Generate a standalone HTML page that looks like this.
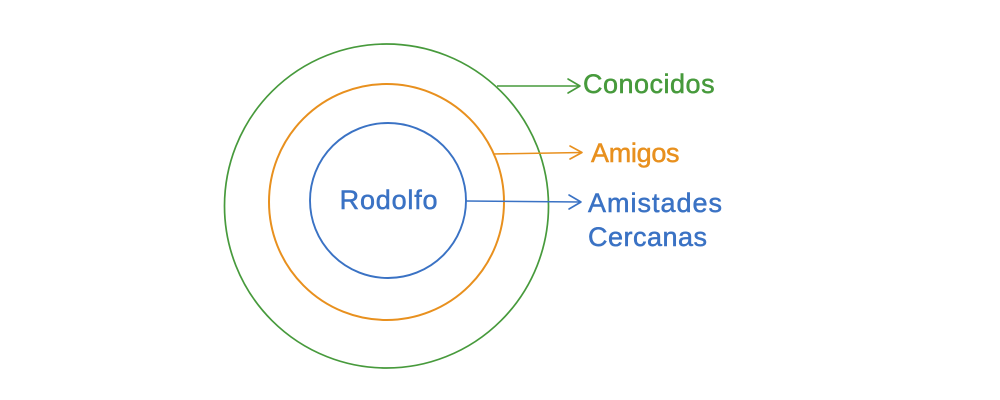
<!DOCTYPE html>
<html>
<head>
<meta charset="utf-8">
<style>
  html, body { margin: 0; padding: 0; background: #ffffff; }
  body { width: 1000px; height: 400px; overflow: hidden; }
  svg { display: block; }
  text { font-family: "Liberation Sans", "DejaVu Sans", sans-serif; font-size: 27px; stroke-width: 0.5; }
</style>
</head>
<body>
<svg width="1000" height="400" viewBox="0 0 1000 400" xmlns="http://www.w3.org/2000/svg">
  <rect width="1000" height="400" fill="#ffffff"/>

  <!-- Green outer circle -->
  <ellipse cx="386.5" cy="206" rx="162" ry="162" fill="none" stroke="#479a3c" stroke-width="1.7"/>

  <!-- Orange middle circle -->
  <ellipse cx="386.5" cy="202" rx="117.5" ry="118" fill="none" stroke="#e8901e" stroke-width="2"/>

  <!-- Blue inner circle -->
  <ellipse cx="388" cy="200.5" rx="78" ry="77.5" fill="none" stroke="#3a72c4" stroke-width="1.9"/>

  <!-- Center label -->
  <text x="389" y="209" text-anchor="middle" fill="#3a72c4" stroke="#3a72c4" font-size="28" letter-spacing="0.8">Rodolfo</text>

  <!-- Green arrow -->
  <line x1="497" y1="86" x2="580" y2="86" stroke="#479a3c" stroke-width="1.6"/>
  <polyline points="568,79 580,86 568,93" fill="none" stroke="#479a3c" stroke-width="1.6" stroke-linecap="round" stroke-linejoin="round"/>
  <text x="583" y="93" fill="#479a3c" stroke="#479a3c" letter-spacing="0.5">Conocidos</text>

  <!-- Orange arrow -->
  <line x1="493" y1="154" x2="582" y2="152.5" stroke="#e8901e" stroke-width="1.6"/>
  <polyline points="570,146 582,152.5 570,159" fill="none" stroke="#e8901e" stroke-width="1.6" stroke-linecap="round" stroke-linejoin="round"/>
  <text x="591" y="162" fill="#e8901e" stroke="#e8901e" letter-spacing="-0.3">Amigos</text>

  <!-- Blue arrow -->
  <line x1="466" y1="201" x2="581" y2="202" stroke="#3a72c4" stroke-width="1.6"/>
  <polyline points="569,195 581,202 569,209" fill="none" stroke="#3a72c4" stroke-width="1.6" stroke-linecap="round" stroke-linejoin="round"/>
  <text x="588" y="212" fill="#3a72c4" stroke="#3a72c4" letter-spacing="1">Amistades</text>
  <text x="588" y="246" fill="#3a72c4" stroke="#3a72c4" letter-spacing="0.5">Cercanas</text>
</svg>
</body>
</html>
